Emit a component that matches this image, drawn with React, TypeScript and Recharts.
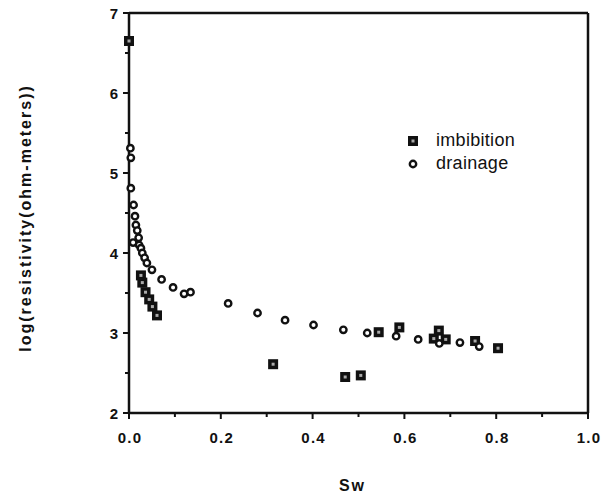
import React from 'react';
import { ScatterChart, Scatter, XAxis, YAxis, Legend, ReferenceLine } from 'recharts';

// values
const imbibitionSw = [0.0, 0.026, 0.029, 0.036, 0.044, 0.051, 0.061, 0.314, 0.471, 0.505, 0.544, 0.589, 0.664, 0.675, 0.69, 0.754, 0.804];
const imbibitionLogR = [6.65, 3.72, 3.63, 3.51, 3.42, 3.33, 3.22, 2.61, 2.45, 2.47, 3.01, 3.07, 2.93, 3.03, 2.92, 2.9, 2.81];

const drainageSw = [0.003, 0.004, 0.004, 0.009, 0.01, 0.013, 0.015, 0.018, 0.021, 0.022, 0.026, 0.029, 0.034, 0.039, 0.05, 0.071, 0.096, 0.12, 0.134, 0.216, 0.28, 0.34, 0.402, 0.467, 0.519, 0.582, 0.63, 0.676, 0.721, 0.763];
const drainageLogR = [5.31, 5.19, 4.81, 4.13, 4.6, 4.46, 4.35, 4.28, 4.19, 4.1, 4.06, 4.0, 3.94, 3.875, 3.79, 3.67, 3.57, 3.49, 3.51, 3.37, 3.25, 3.16, 3.1, 3.04, 3.0, 2.96, 2.92, 2.87, 2.88, 2.83];

const xTicks = [0, 0.1, 0.2, 0.3, 0.4, 0.5, 0.6, 0.7, 0.8, 0.9, 1.0];
const yTicks = [2, 2.5, 3, 3.5, 4, 4.5, 5, 5.5, 6, 6.5, 7];

const imbibition = imbibitionSw.map((sw, i) => ({ sw, r: imbibitionLogR[i] }));
const drainage = drainageSw.map((sw, i) => ({ sw, r: drainageLogR[i] }));

const FONT = '"Liberation Sans", Arial, Helvetica, sans-serif';

const SquareMark = ({ cx, cy }: any) => (
  <g>
    <rect x={cx - 5} y={cy - 5} width={10} height={10} fill="#111" />
    <rect x={cx - 1.5} y={cy - 1.5} width={3} height={3} fill="#aaa" />
  </g>
);

const CircleMark = ({ cx, cy }: any) => (
  <circle cx={cx} cy={cy} r={3.2} fill="#fff" stroke="#111" strokeWidth={2.4} />
);

const XTick = (props: any) => {
  const { x, y, payload } = props;
  const major = Math.round(payload.value * 10) % 2 === 0;
  return (
    <g>
      <line x1={x} x2={x} y1={y} y2={y + (major ? 6 : 4)} stroke="#111" strokeWidth={2} />
      {major && (
        <text x={x + 1} y={y + 30} textAnchor="middle" fontFamily={FONT} fontWeight="bold" fontSize={15} letterSpacing={1.2} fill="#111">
          {payload.value.toFixed(1)}
        </text>
      )}
    </g>
  );
};

const YTick = (props: any) => {
  const { x, y, payload } = props;
  const major = Number.isInteger(payload.value);
  return (
    <g>
      <line x1={x} x2={x - (major ? 6 : 4)} y1={y} y2={y} stroke="#111" strokeWidth={2} />
      {major && (
        <text x={x - 11} y={y + 5.5} textAnchor="end" fontFamily={FONT} fontWeight="bold" fontSize={15} fill="#111">
          {payload.value}
        </text>
      )}
    </g>
  );
};

const renderLegend = () => (
  <div style={{ fontFamily: FONT, fontSize: 18, color: '#111', letterSpacing: 0.3 }}>
    {[
      { name: 'imbibition', mark: <SquareMark cx={7} cy={7} /> },
      { name: 'drainage', mark: <CircleMark cx={7} cy={7} /> },
    ].map((item) => (
      <div key={item.name} style={{ display: 'flex', alignItems: 'center', height: 23 }}>
        <svg width={14} height={14} style={{ marginRight: 16 }}>
          {item.mark}
        </svg>
        <span>{item.name}</span>
      </div>
    ))}
  </div>
);

export default function App() {
  return (
    <div style={{ position: 'absolute', left: 0, top: 0, background: '#fff' }}>
      <ScatterChart width={605} height={495} margin={{ top: 13, right: 17, bottom: 0, left: 0 }}>
        <XAxis
          type="number"
          dataKey="sw"
          domain={[0, 1]}
          ticks={xTicks}
          interval={0}
          tick={<XTick />}
          tickSize={0}
          tickMargin={0}
          tickLine={false}
          height={82}
          axisLine={{ stroke: '#111', strokeWidth: 2.5 }}
          label={(p: any) => {
            const vb = p.viewBox;
            return (
              <text x={vb.x + vb.width / 2 - 6} y={491} textAnchor="middle" fontFamily={FONT} fontWeight="bold" fontSize={16} letterSpacing={2} fill="#111">
                Sw
              </text>
            );
          }}
        />
        <YAxis
          type="number"
          dataKey="r"
          domain={[2, 7]}
          ticks={yTicks}
          interval={0}
          tick={<YTick />}
          tickSize={0}
          tickMargin={0}
          tickLine={false}
          width={129}
          axisLine={{ stroke: '#111', strokeWidth: 2.5 }}
          label={(p: any) => {
            const vb = p.viewBox;
            const cx = 25;
            const cy = vb.y + vb.height / 2 + 5;
            return (
              <text x={cx} y={cy} transform={`rotate(-90 ${cx} ${cy})`} textAnchor="middle" dominantBaseline="central" fontFamily={FONT} fontWeight="bold" fontSize={16} letterSpacing={2} fill="#111">
                log(resistivity(ohm-meters))
              </text>
            );
          }}
        />
        <ReferenceLine y={7} stroke="#111" strokeWidth={2.5} ifOverflow="visible" />
        <ReferenceLine x={1} stroke="#111" strokeWidth={2.5} ifOverflow="visible" />
        <Legend
          layout="vertical"
          align="center"
          verticalAlign="middle"
          content={renderLegend}
          wrapperStyle={{ position: 'absolute', left: 406, top: 129, width: 'auto' }}
        />
        <Scatter name="imbibition" data={imbibition} shape={<SquareMark />} isAnimationActive={false} />
        <Scatter name="drainage" data={drainage} shape={<CircleMark />} isAnimationActive={false} />
      </ScatterChart>
    </div>
  );
}
